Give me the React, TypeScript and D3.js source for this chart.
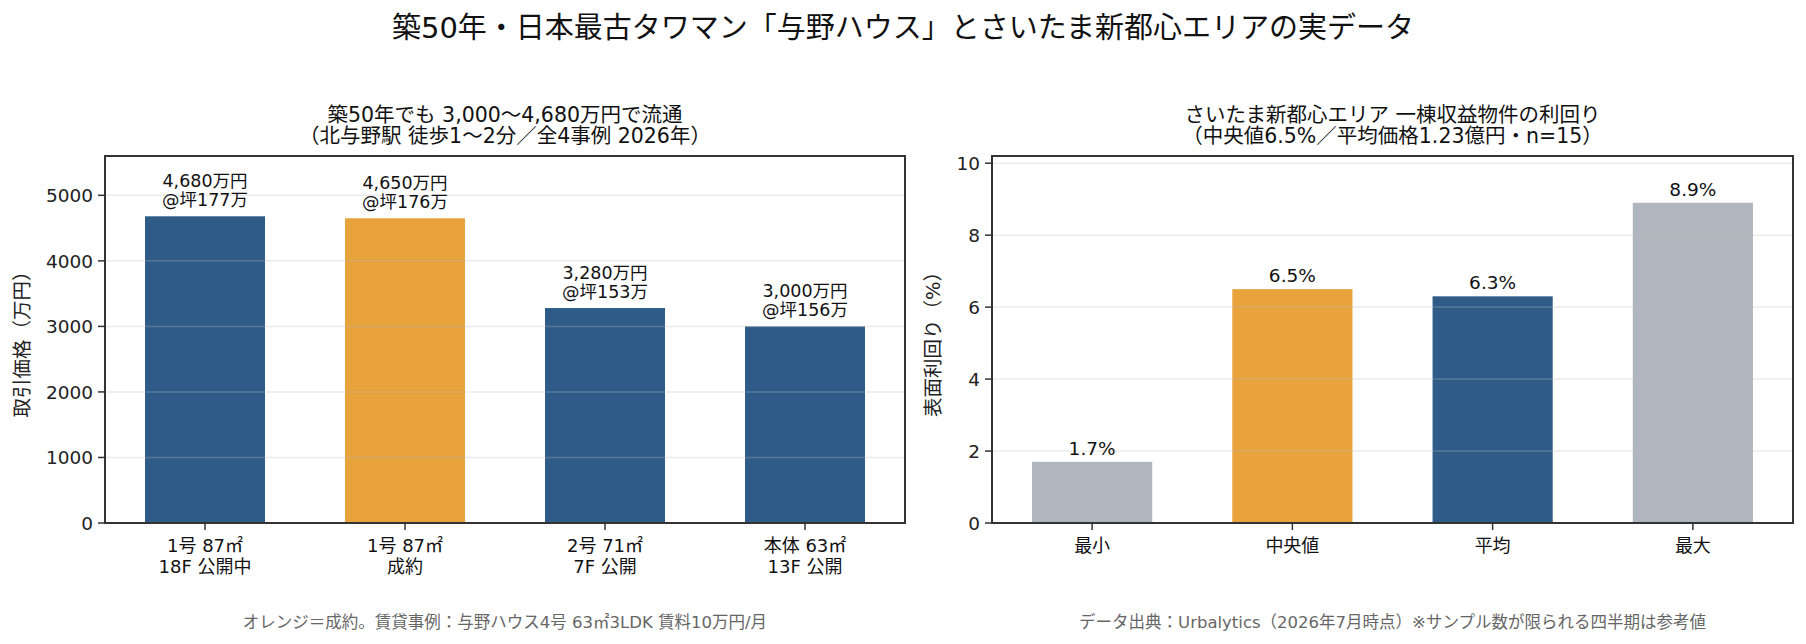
import * as d3 from 'd3';

// 与野ハウス 取引事例
const propertyNames = ['1号 87㎡', '1号 87㎡', '2号 71㎡', '本体 63㎡'];
const propertyFloors = ['18F 公開中', '成約', '7F 公開', '13F 公開'];
const prices = [4680, 4650, 3280, 3000];
const tsuboPrices = [177, 176, 153, 156];
const isClosed = [false, true, false, false];
const priceTicks = [0, 1000, 2000, 3000, 4000, 5000];

// さいたま新都心 一棟収益 利回り
const yieldCats = ['最小', '中央値', '平均', '最大'];
const yieldValues = [1.7, 6.5, 6.3, 8.9];
const yieldKinds = ['range', 'median', 'mean', 'range'];
const yieldTicks = [0, 2, 4, 6, 8, 10];

const W = 1806;
const H = 644;
const FONT = '"DejaVu Sans", "Noto Sans CJK JP", sans-serif';
const BLUE = '#2e5b88';
const ORANGE = '#e8a33c';
const GREY = '#b0b6be';
const SPINE = '#333333';

const top = 156;
const bottom = 523;

const kindColor: Record<string, string> = { range: GREY, median: ORANGE, mean: BLUE };

function Axes({ x0, x1, ticks, y, cats, band, ylabel, ylabelX }) {
  return (
    <g>
      {ticks.map(t => (
        <g key={t}>
          {t > 0 && (
            <line x1={x0} x2={x1} y1={y(t)} y2={y(t)} stroke="#bbbbbb" strokeOpacity={0.3} strokeWidth={1.5} />
          )}
          <line x1={x0 - 7} x2={x0} y1={y(t)} y2={y(t)} stroke={SPINE} strokeWidth={1.5} />
          <text x={x0 - 12} y={y(t)} dy="0.36em" textAnchor="end" fontSize={18.5} fill="#222">{t}</text>
        </g>
      ))}
      {cats.map(c => (
        <line key={c} x1={band(c) + band.bandwidth() / 2} x2={band(c) + band.bandwidth() / 2}
          y1={bottom} y2={bottom + 7} stroke={SPINE} strokeWidth={1.5} />
      ))}
      <rect x={x0} y={top} width={x1 - x0} height={bottom - top} fill="none" stroke={SPINE} strokeWidth={2} />
      <text transform={`translate(${ylabelX},${(top + bottom) / 2}) rotate(-90)`} textAnchor="middle"
        dy="0.35em" fontSize={19.5} fill="#222">{ylabel}</text>
    </g>
  );
}

export default function App() {
  // 左：取引価格
  const lx0 = 105, lx1 = 905;
  const xL = d3.scaleBand<string>().domain(d3.range(prices.length).map(String))
    .range([lx0, lx1]).paddingInner(0.4).paddingOuter(0.2);
  const yL = d3.scaleLinear().domain([0, 5600]).range([bottom, top]);

  // 右：利回り
  const rx0 = 992, rx1 = 1793;
  const xR = d3.scaleBand<string>().domain(yieldCats)
    .range([rx0, rx1]).paddingInner(0.4).paddingOuter(0.2);
  const yR = d3.scaleLinear().domain([0, 10.2]).range([bottom, top]);

  const fmt = d3.format(',');

  return (
    <svg width={W} height={H} style={{ position: 'absolute', left: 0, top: 0, background: '#fff' }}
      fontFamily={FONT}>
      <text x={W / 2} y={38} textAnchor="middle" fontSize={29} fill="#111">
        築50年・日本最古タワマン「与野ハウス」とさいたま新都心エリアの実データ
      </text>

      {/* left panel */}
      <text x={(lx0 + lx1) / 2} y={122} textAnchor="middle" fontSize={20.5} fill="#111">築50年でも 3,000〜4,680万円で流通</text>
      <text x={(lx0 + lx1) / 2} y={143} textAnchor="middle" fontSize={20.5} fill="#111">（北与野駅 徒歩1〜2分／全4事例 2026年）</text>
      {prices.map((p, i) => (
        <rect key={i} x={xL(String(i))} y={yL(p)} width={xL.bandwidth()} height={bottom - yL(p)}
          fill={isClosed[i] ? ORANGE : BLUE} />
      ))}
      <Axes x0={lx0} x1={lx1} ticks={priceTicks} y={yL} cats={d3.range(prices.length).map(String)} band={xL}
        ylabel="取引価格（万円）" ylabelX={22} />
      {prices.map((p, i) => {
        const cx = xL(String(i)) + xL.bandwidth() / 2;
        return (
          <g key={i} fill="#111" textAnchor="middle">
            <text x={cx} y={yL(p) - 29.5} fontSize={17.5}>{fmt(p)}万円</text>
            <text x={cx} y={yL(p) - 10} fontSize={17.5}>@坪{tsuboPrices[i]}万</text>
            <text x={cx} y={552} fontSize={18}>{propertyNames[i]}</text>
            <text x={cx} y={573} fontSize={18}>{propertyFloors[i]}</text>
          </g>
        );
      })}
      <text x={(lx0 + lx1) / 2} y={628} textAnchor="middle" fontSize={16.5} fill="#666">
        オレンジ＝成約。賃貸事例：与野ハウス4号 63㎡3LDK 賃料10万円/月
      </text>

      {/* right panel */}
      <text x={(rx0 + rx1) / 2} y={122} textAnchor="middle" fontSize={20.5} fill="#111">さいたま新都心エリア 一棟収益物件の利回り</text>
      <text x={(rx0 + rx1) / 2} y={143} textAnchor="middle" fontSize={20.5} fill="#111">（中央値6.5%／平均価格1.23億円・n=15）</text>
      {yieldValues.map((v, i) => (
        <rect key={i} x={xR(yieldCats[i])} y={yR(v)} width={xR.bandwidth()} height={bottom - yR(v)}
          fill={kindColor[yieldKinds[i]]} />
      ))}
      <Axes x0={rx0} x1={rx1} ticks={yieldTicks} y={yR} cats={yieldCats} band={xR}
        ylabel="表面利回り（%）" ylabelX={933} />
      {yieldValues.map((v, i) => {
        const cx = xR(yieldCats[i]) + xR.bandwidth() / 2;
        return (
          <g key={i} fill="#111" textAnchor="middle">
            <text x={cx} y={yR(v) - 7} fontSize={18.5}>{v.toFixed(1)}%</text>
            <text x={cx} y={552} fontSize={18}>{yieldCats[i]}</text>
          </g>
        );
      })}
      <text x={(rx0 + rx1) / 2} y={628} textAnchor="middle" fontSize={16.5} fill="#666">
        データ出典：Urbalytics（2026年7月時点）※サンプル数が限られる四半期は参考値
      </text>
    </svg>
  );
}
